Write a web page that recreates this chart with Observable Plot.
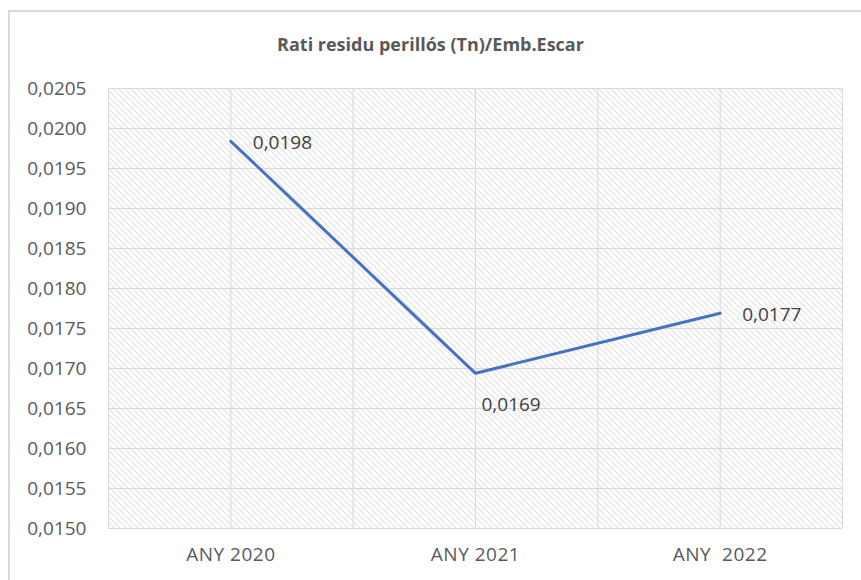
<!DOCTYPE html>
<html>
<head>
<meta charset="utf-8">
<script src="https://cdn.jsdelivr.net/npm/d3@7"></script>
<script src="https://cdn.jsdelivr.net/npm/@observablehq/plot@0.6"></script>
<style>
  html, body { margin: 0; padding: 0; background: #fff; }
  #wrap { position: relative; width: 861px; height: 580px; overflow: hidden; font-family: "Open Sans", sans-serif; }
  #border { position: absolute; left: 8px; top: 10px; width: 880px; height: 600px; border: 2px solid #d9d9d9; box-sizing: border-box; }
  #title { position: absolute; left: 0; width: 861px; top: 32px; text-align: center; font-size: 18px; font-weight: 700; color: #595959; }
  #chart { position: absolute; left: 0; top: 0; }
</style>
</head>
<body>
<div id="wrap">
  <div id="border"></div>
  <div id="title"></div>
  <div id="chart"></div>
</div>
<script>
const title = "Rati residu perillós (Tn)/Emb.Escar";
const categories = ["ANY 2020", "ANY 2021", "ANY  2022"];
const values = [0.01984, 0.01694, 0.01769];
const valueLabels = ["0,0198", "0,0169", "0,0177"];
const yTicks = [0.0150, 0.0155, 0.0160, 0.0165, 0.0170, 0.0175, 0.0180, 0.0185, 0.0190, 0.0195, 0.0200, 0.0205];

document.getElementById("title").textContent = title;

const data = categories.map((c, i) => ({i, cat: c, value: values[i], label: valueLabels[i]}));
const bounds = d3.range(categories.length + 1).map(i => i - 0.5);
const fmt = d => d.toFixed(4).replace(".", ",");

const chart = Plot.plot({
  width: 861,
  height: 580,
  marginLeft: 108,
  marginRight: 19,
  marginTop: 88,
  marginBottom: 52,
  style: {fontFamily: "Open Sans, sans-serif", background: "transparent", overflow: "visible"},
  x: {domain: [-0.5, categories.length - 0.5], ticks: d3.range(categories.length), tickFormat: i => categories[i], tickSize: 0, tickPadding: 19, label: null},
  y: {domain: [0.0150, 0.0205], ticks: yTicks, tickFormat: fmt, tickSize: 0, tickPadding: 22, label: null},
  marks: [
    Plot.frame({fill: "url(#hatch)", stroke: null}),
    Plot.gridY(yTicks, {stroke: "#d9d9d9", strokeOpacity: 1, strokeWidth: 1}),
    Plot.gridX(d3.range(categories.length), {stroke: "#d9d9d9", strokeOpacity: 1, strokeWidth: 1}),
    Plot.ruleX(bounds, {stroke: "#d9d9d9", strokeWidth: 1}),
    Plot.line(data, {x: "i", y: "value", stroke: "#4472c4", strokeWidth: 3}),
    Plot.text(data.filter(d => d.i !== 1), {x: "i", y: "value", text: "label", textAnchor: "start", dx: 22, dy: 2, fontSize: 19, fill: "#404040"}),
    Plot.text(data.filter(d => d.i === 1), {x: "i", y: "value", text: "label", textAnchor: "start", dx: 6, dy: 32, fontSize: 19, fill: "#404040"})
  ]
});

// hatch pattern definition for the plot frame
const ns = "http://www.w3.org/2000/svg";
const defs = document.createElementNS(ns, "defs");
const pat = document.createElementNS(ns, "pattern");
pat.setAttribute("id", "hatch");
pat.setAttribute("patternUnits", "userSpaceOnUse");
pat.setAttribute("width", "6");
pat.setAttribute("height", "6");
const bg = document.createElementNS(ns, "rect");
bg.setAttribute("width", "6"); bg.setAttribute("height", "6"); bg.setAttribute("fill", "#fff");
pat.appendChild(bg);
[["-1","-1","7","7"],["-1","5","1","7"],["5","-1","7","1"]].forEach(([x1,y1,x2,y2]) => {
  const l = document.createElementNS(ns, "line");
  l.setAttribute("x1", x1); l.setAttribute("y1", y1); l.setAttribute("x2", x2); l.setAttribute("y2", y2);
  l.setAttribute("stroke", "#cfcfcf"); l.setAttribute("stroke-width", "1");
  pat.appendChild(l);
});
defs.appendChild(pat);
chart.insertBefore(defs, chart.firstChild);

// axis text styling
chart.querySelectorAll('[aria-label="y-axis tick label"] text, [aria-label="x-axis tick label"] text').forEach(t => {
  t.setAttribute("fill", "#595959");
});
chart.querySelectorAll('[aria-label="y-axis tick label"], [aria-label="x-axis tick label"]').forEach(g => {
  g.setAttribute("font-size", "19");
});
chart.querySelectorAll('[aria-label="x-axis tick label"]').forEach(g => {
  g.setAttribute("letter-spacing", "0.5");
});

document.getElementById("chart").appendChild(chart);
</script>
</body>
</html>
